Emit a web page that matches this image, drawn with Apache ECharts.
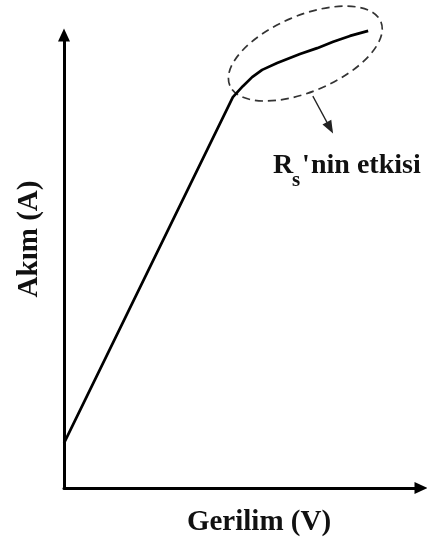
<!DOCTYPE html>
<html>
<head>
<meta charset="utf-8">
<script src="https://cdn.jsdelivr.net/npm/echarts@6/dist/echarts.min.js"></script>
<style>
  html, body { margin: 0; padding: 0; background: #fff; }
  #chart { width: 427px; height: 545px; }
</style>
</head>
<body>
<div id="chart"></div>
<script>
// I–V characteristic, axes in relative units (0–100)
const voltage = [0, 47.3, 50.1, 52.7, 55.5, 59.7, 66.1, 70.9, 75.4, 80.1, 85.2];
const current = [9.9, 86.3, 88.7, 90.7, 92.3, 93.8, 95.8, 97.1, 98.5, 99.8, 100.9];
const xAxisName = 'Gerilim (V)';
const yAxisName = 'Akım (A)';
// bend caused by the series resistance, and the pointer to its note
const rsRegionCenter = [67.6, 95.9];
const pointerFrom = [69.7, 86.5];
const pointerTo = [74.5, 79.5];

const serif = '"Liberation Serif", "Times New Roman", serif';
const chart = echarts.init(document.getElementById('chart'), null, { renderer: 'canvas' });

const axisLine = {
  show: true,
  symbol: ['none', 'triangle'],
  symbolSize: [12, 13],
  lineStyle: { color: '#000', width: 3 }
};

chart.setOption({
  animation: false,
  backgroundColor: '#fff',
  grid: { left: 64, right: 6, top: 35, bottom: 57, containLabel: false },
  xAxis: {
    type: 'value', min: 0, max: 100,
    name: xAxisName, nameLocation: 'middle', nameGap: 20,
    nameTextStyle: { fontFamily: serif, fontWeight: 'bold', fontSize: 29, color: '#111', padding: [0, 0, 0, 33] },
    axisLine: axisLine,
    axisTick: { show: false }, axisLabel: { show: false }, splitLine: { show: false }
  },
  yAxis: {
    type: 'value', min: 0, max: 100,
    name: yAxisName, nameLocation: 'middle', nameGap: 20,
    nameTextStyle: { fontFamily: serif, fontWeight: 'bold', fontSize: 29, color: '#111', padding: [0, 0, 0, 45] },
    axisLine: axisLine,
    axisTick: { show: false }, axisLabel: { show: false }, splitLine: { show: false }
  },
  series: [
    {
      type: 'line',
      data: voltage.map((v, i) => [v, current[i]]),
      showSymbol: false,
      clip: false,
      lineStyle: { color: '#000', width: 2.7 },
      markLine: {
        silent: true,
        symbol: ['none', 'triangle'],
        symbolSize: [10, 13],
        lineStyle: { color: '#222', width: 1.3, type: 'solid' },
        label: { show: false },
        data: [[{ coord: pointerFrom }, { coord: pointerTo }]]
      }
    },
    {
      type: 'custom',
      data: [rsRegionCenter],
      clip: false,
      renderItem: function (params, api) {
        const p = api.coord([api.value(0), api.value(1)]);
        return {
          type: 'ellipse',
          x: p[0], y: p[1],
          rotation: 23 * Math.PI / 180,
          shape: { cx: 0, cy: 0, rx: 82, ry: 38 },
          style: { fill: 'none', stroke: '#333', lineWidth: 1.7, lineDash: [8, 5] }
        };
      }
    }
  ],
  graphic: [
    { type: 'text', x: 273, y: 180, style: { text: 'R', font: 'bold 28px ' + serif, fill: '#111', textVerticalAlign: 'bottom' } },
    { type: 'text', x: 292, y: 191, style: { text: 's', font: 'bold 21px ' + serif, fill: '#111', textVerticalAlign: 'bottom' } },
    { type: 'text', x: 302, y: 180, style: { text: "'", font: 'bold 28px ' + serif, fill: '#111', textVerticalAlign: 'bottom' } },
    { type: 'text', x: 311, y: 180, style: { text: 'nin etkisi', font: 'bold 28px ' + serif, fill: '#111', textVerticalAlign: 'bottom' } }
  ]
});
</script>
</body>
</html>
